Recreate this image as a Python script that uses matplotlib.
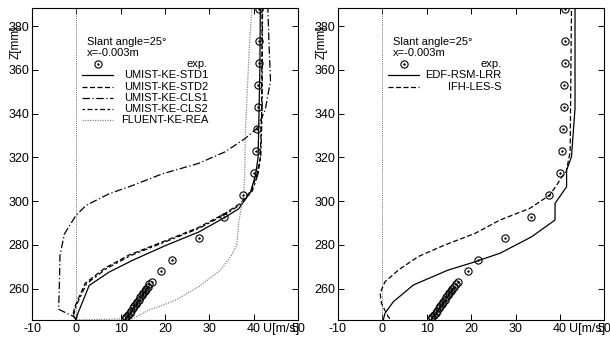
import matplotlib
matplotlib.use('Agg')
import matplotlib.pyplot as plt
from matplotlib.lines import Line2D

plt.rcParams['font.family'] = ['Liberation Sans', 'DejaVu Sans']
plt.rcParams['font.size'] = 8
plt.rcParams['axes.unicode_minus'] = False

# experimental profile (same in both panels)
exp_u = [41.2, 41.1, 41.1, 40.9, 40.9, 40.7, 40.5, 40.0, 37.6, 33.4, 27.6,
         21.6, 19.2, 17.0, 16.5, 16.2, 15.8, 15.5, 15.1, 14.8, 14.4, 14.1,
         13.7, 13.4, 13.0, 12.7, 12.3, 12.0, 11.6, 11.2, 10.9]
exp_z = [388, 373, 363, 353, 343, 333, 323, 313, 303, 293, 283,
         273, 268, 263, 262, 261, 260, 259, 258, 257, 256, 255,
         254, 253, 252, 251, 250, 249, 248, 247, 246]

# left panel models
std1_u = [0.0, 0.2, 1.0, 2.9, 7.4, 12.7, 20.2, 27.6, 33.6, 36.6, 39.3, 40.4, 41.0, 41.2, 41.4, 41.5]
std1_z = [245.7, 248, 252, 261.5, 267.6, 273, 279.8, 285.9, 292.7, 296.5, 304.2, 311.8, 320, 340, 360, 388]

std2_u = [0.0, -0.8, -0.3, 2.0, 6.5, 12.0, 20.2, 27.6, 33.6, 37.0, 39.5, 40.7, 41.5, 41.8, 41.9]
std2_z = [245.7, 248, 252, 262.5, 269.5, 275.5, 282, 288, 294.5, 299, 305, 312, 320, 340, 388]

cls1_u = [0.0, -0.45, -4.0, -3.8, -3.7, -2.7, -0.1, 2.2, 7.4, 12.7, 19.4, 27.6,
          33.6, 38.1, 40.7, 42.6, 43.8, 43.5, 43.2]
cls1_z = [245.7, 247.1, 250.6, 264, 275.2, 285, 293.5, 298.1, 303.4, 307.2, 312.5, 317.3,
          322.6, 328.7, 333.2, 341.6, 355, 370, 388]

cls2_u = [0.0, -0.6, -0.1, 2.3, 6.8, 12.3, 20.4, 27.8, 33.8, 37.2, 39.7, 40.9, 41.6, 41.9, 42.0]
cls2_z = [245.7, 248, 252, 262.3, 269.2, 275.2, 281.7, 287.7, 294.2, 298.7, 304.7, 311.8, 320, 340, 388]

rea_u = [0.0, 12.7, 16.4, 19.4, 22.4, 27.6, 32.5, 34.8, 36.2, 36.6, 37.8, 38.0, 38.1, 39.0, 39.6]
rea_z = [245.7, 246.3, 250.3, 252.4, 254.8, 260.9, 268.5, 274.6, 280, 289.9, 303.6, 313.4, 329.4, 370, 388]

# right panel models
lrr_u = [0.2, 0.6, 2.5, 7.0, 14.8, 20.9, 22.0, 26.5, 33.6, 38.9, 38.9, 41.5, 41.5, 42.6, 43.4, 43.4]
lrr_z = [245.7, 248.8, 254.1, 261.7, 268.5, 272.3, 273.1, 276.2, 283.7, 291.4, 299, 306.6, 314.2, 320.3, 342.4, 388]

les_u = [1.7, 1.3, -0.2, -0.5, 0.6, 3.6, 8.1, 14.1, 20.9, 26.5, 33.2, 37.7, 39.3, 40.4, 41.4, 42.3, 42.6]
les_z = [246.3, 247.2, 253.3, 258, 263.2, 268.5, 274.7, 280, 285.3, 291.4, 296.7, 302.8, 307.4, 311.1, 313.4, 322.5, 388]

left_models = [
    ('UMIST-KE-STD1', std1_u, std1_z, dict(color='black', ls='-')),
    ('UMIST-KE-STD2', std2_u, std2_z, dict(color='black', ls=(0, (4, 2)))),
    ('UMIST-KE-CLS1', cls1_u, cls1_z, dict(color='black', ls=(0, (6, 2, 1, 2)))),
    ('UMIST-KE-CLS2', cls2_u, cls2_z, dict(color='black', ls=(0, (2, 2, 4, 2)))),
    ('FLUENT-KE-REA', rea_u, rea_z, dict(color='#888888', ls=(0, (1, 1)))),
]
right_models = [
    ('EDF-RSM-LRR', lrr_u, lrr_z, dict(color='black', ls='-')),
    ('IFH-LES-S', les_u, les_z, dict(color='black', ls=(0, (4, 2)))),
]

fig = plt.figure(figsize=(6.1, 3.45), dpi=100)
ax1 = fig.add_axes([0.0525, 0.0725, 0.436, 0.9043])
ax2 = fig.add_axes([0.554, 0.0725, 0.4367, 0.9043])


def draw_panel(ax, models, text_right):
    ax.axvline(0, color='#777777', lw=0.7, ls=(0, (1, 1)))
    for name, u, z, st in models:
        ax.plot(u, z, lw=0.9, **st)
    ax.plot(exp_u, exp_z, 'o', mfc='none', mec='black', ms=5.2, mew=0.8)
    ax.plot(exp_u, exp_z, '.', color='black', ms=1.5)
    ax.set_xlim(-10, 50)
    ax.set_ylim(245.7, 388.3)
    ax.set_xticks([-10, 0, 10, 20, 30, 40, 50])
    ax.set_yticks([260, 280, 300, 320, 340, 360, 380])
    ax.tick_params(direction='in', top=True, right=True, length=4, width=0.7,
                   pad=2, labelsize=9)
    for sp in ax.spines.values():
        sp.set_linewidth(0.8)
    ax.text(-0.06, 0.891, 'Z[mm]', rotation=90, ha='center', va='center',
            fontsize=8.5, transform=ax.transAxes)
    ax.text(0.936, -0.009, 'U[m/s]', ha='center', va='top', fontsize=9,
            transform=ax.transAxes)

    # key, gnuplot style
    tr = ax.transAxes
    ax.text(0.207, 0.891, 'Slant angle=25°', va='center', transform=tr)
    ax.text(0.207, 0.856, 'x=-0.003m', va='center', transform=tr)
    ax.add_line(Line2D([0.247], [0.821], marker='o', mfc='none', mec='black',
                       ms=5.2, mew=0.8, transform=tr))
    ax.add_line(Line2D([0.247], [0.821], marker='.', color='black', ms=1.5, transform=tr))
    ax.text(text_right, 0.821, 'exp.', ha='right', va='center', transform=tr)
    y = 0.784
    for name, u, z, st in models:
        ax.add_line(Line2D([0.188, 0.305], [y, y], lw=0.9, transform=tr, **st))
        ax.text(text_right, y, name, ha='right', va='center', transform=tr)
        y -= 0.036


draw_panel(ax1, left_models, 0.662)
draw_panel(ax2, right_models, 0.615)

fig.savefig('out.png', dpi=100)
